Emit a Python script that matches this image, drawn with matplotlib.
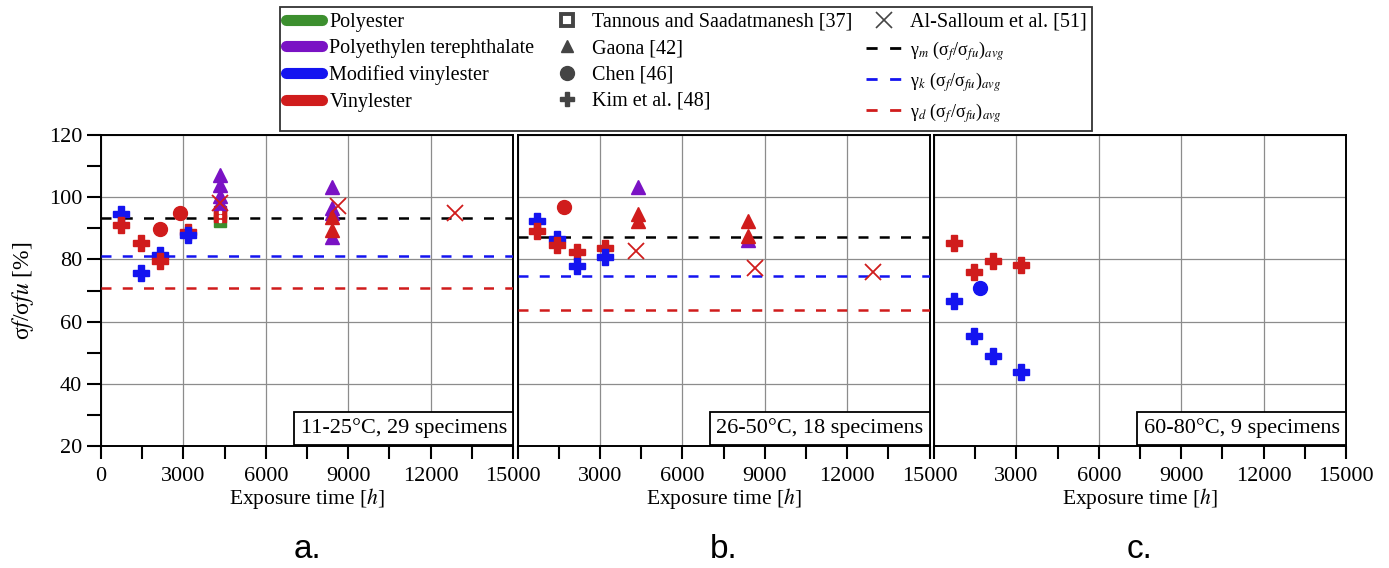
import matplotlib
matplotlib.use('Agg')
import matplotlib.pyplot as plt
from matplotlib.lines import Line2D
from matplotlib.ticker import MultipleLocator

plt.rcParams['font.family'] = ['Liberation Serif', 'DejaVu Serif']
plt.rcParams['mathtext.fontset'] = 'stix'

# material colours and source markers
materials = ['Polyester', 'Polyethylen terephthalate', 'Modified vinylester', 'Vinylester']
mat_colors = {'PE': '#3c8f2e', 'PET': '#7a12c4', 'MVE': '#1414f0', 'VE': '#d01c1c'}
sources = ['Tannous and Saadatmanesh [37]', 'Gaona [42]', 'Chen [46]', 'Kim et al. [48]', 'Al-Salloum et al. [51]']

# panel a: 11-25 C
a_time = [720, 720, 1440, 1440, 2160, 2160, 3170, 3170,
          2160, 2880,
          4340, 4340, 4340,
          4340, 4340, 4340, 4340, 8400, 8400, 8400, 8400, 8400, 8400,
          4340, 8640, 12900]
a_ratio = [94.6, 91.1, 85.4, 75.6, 81.4, 79.6, 88.7, 87.8,
           89.8, 94.8,
           92.4, 93.8, 95.2,
           107.0, 103.8, 100.5, 98.0, 103.2, 96.5, 95.0, 87.2, 93.5, 89.5,
           98.0, 97.3, 94.8]
a_source = ['Kim'] * 8 + ['Chen'] * 2 + ['Tannous'] * 3 + ['Gaona'] * 10 + ['AlSalloum'] * 3
a_material = ['MVE', 'VE', 'VE', 'MVE', 'MVE', 'VE', 'VE', 'MVE',
              'VE', 'VE',
              'PE', 'VE', 'VE',
              'PET', 'PET', 'PET', 'PET', 'PET', 'PET', 'PET', 'PET', 'VE', 'VE',
              'VE', 'VE', 'VE']
a_avg = [93.3, 81.2, 70.8]

# panel b: 26-50 C
b_time = [720, 720, 1440, 1440, 2160, 2160, 3170, 3170,
          1680,
          4370, 4370, 4370, 8400, 8400, 8400,
          4320, 8640, 12930]
b_ratio = [92.2, 89.0, 86.5, 84.6, 82.5, 77.9, 83.8, 80.9,
           96.8,
           103.3, 94.5, 92.3, 86.3, 92.3, 87.5,
           82.7, 77.2, 75.8]
b_source = ['Kim'] * 8 + ['Chen'] + ['Gaona'] * 6 + ['AlSalloum'] * 3
b_material = ['MVE', 'VE', 'MVE', 'VE', 'VE', 'MVE', 'VE', 'MVE',
              'VE',
              'PET', 'VE', 'VE', 'PET', 'VE', 'VE',
              'VE', 'VE', 'VE']
b_avg = [87.2, 74.8, 63.8]

# panel c: 60-80 C
c_time = [720, 1440, 2160, 3170, 720, 1440, 2160, 3170, 1680]
c_ratio = [85.2, 76.0, 79.5, 78.2, 66.5, 55.3, 49.0, 43.8, 70.9]
c_source = ['Kim'] * 8 + ['Chen']
c_material = ['VE'] * 4 + ['MVE'] * 4 + ['MVE']
c_avg = []

panel_text = ['11-25°C, 29 specimens', '26-50°C, 18 specimens', '60-80°C, 9 specimens']
panel_letter = ['a.', 'b.', 'c.']
avg_colors = ['black', '#1414f0', '#d01c1c']

fig = plt.figure(figsize=(13.89, 5.68), dpi=100)
W, H = 1389.0, 568.0
lefts = [101, 517.5, 934]
width = 412
bottom, top = 446, 135

panels = [(a_time, a_ratio, a_source, a_material, a_avg),
          (b_time, b_ratio, b_source, b_material, b_avg),
          (c_time, c_ratio, c_source, c_material, c_avg)]


def draw_point(ax, t, r, src, mat):
    col = mat_colors[mat]
    if src == 'Kim':
        ax.plot(t, r, marker='P', ms=11, color=col, mec=col, ls='none', zorder=5)
    elif src == 'Chen':
        ax.plot(t, r, marker='o', ms=10, color=col, mec=col, ls='none', zorder=5)
    elif src == 'Gaona':
        ax.plot(t, r, marker='^', ms=9.5, color=col, mec=col, ls='none', zorder=5)
    elif src == 'Tannous':
        ax.plot(t, r, marker='s', ms=9, color=col, mec=col, ls='none', zorder=5)
        ax.plot(t, r, marker='s', ms=2, color='white', mec='white', ls='none', zorder=6)
    elif src == 'AlSalloum':
        ax.plot(t, r, marker='x', ms=11, color=col, mew=1.3, ls='none', zorder=5)


for i, (times, ratios, srcs, mats, avgs) in enumerate(panels):
    ax = fig.add_axes([lefts[i] / W, 1 - bottom / H, width / W, (bottom - top) / H])
    ax.set_xlim(0, 15000)
    ax.set_ylim(20, 120)
    ax.xaxis.set_major_locator(MultipleLocator(3000))
    ax.xaxis.set_minor_locator(MultipleLocator(1500))
    ax.yaxis.set_major_locator(MultipleLocator(20))
    ax.yaxis.set_minor_locator(MultipleLocator(10))
    ax.grid(True, which='major', color='#8c8c8c', lw=0.9)
    ax.set_axisbelow(True)
    for s in ax.spines.values():
        s.set_linewidth(1.4)
    ax.tick_params(axis='x', which='both', direction='out', length=9, width=1.5,
                   labelsize=16, pad=6)
    ax.tick_params(axis='y', which='both', direction='out', length=10, width=1.5,
                   labelsize=16)
    ax.set_xticks([0, 3000, 6000, 9000, 12000, 15000])
    if i == 0:
        ax.set_ylabel('σ$f$/σ$fu$ [%]', fontsize=17, labelpad=9)
    else:
        ax.set_xticklabels(['', '3000', '6000', '9000', '12000', '15000'])
        ax.tick_params(axis='y', which='both', left=False, labelleft=False)
    ax.set_xlabel('Exposure time [$h$]', fontsize=15.5, labelpad=0)

    for j, val in enumerate(avgs):
        ax.axhline(val, color=avg_colors[j], lw=1.8, dashes=(4, 4.5), zorder=3)

    for t, r, s, m in zip(times, ratios, srcs, mats):
        draw_point(ax, t, r, s, m)

    ax.text(0.985, 0.025, panel_text[i], transform=ax.transAxes, ha='right', va='bottom',
            fontsize=16, zorder=10,
            bbox=dict(boxstyle='square,pad=0.3', fc='white', ec='black', lw=1.3))
    fig.text((lefts[i] + width / 2) / W, 1 - 549 / H, panel_letter[i], ha='center',
             va='center', fontsize=24, family=['Liberation Sans', 'DejaVu Sans'])

# legend
handles = []
labels = []
for m, key in zip(materials, ['PE', 'PET', 'MVE', 'VE']):
    handles.append(Line2D([], [], color=mat_colors[key], lw=8, solid_capstyle='round'))
    labels.append(m)
handles.append(Line2D([], [], marker='s', ms=8, mfc='white', mec='#444444', mew=2.8, ls='none'))
handles.append(Line2D([], [], marker='^', ms=9, color='#444444', ls='none'))
handles.append(Line2D([], [], marker='o', ms=10, color='#444444', ls='none'))
handles.append(Line2D([], [], marker='P', ms=10, color='#444444', ls='none'))
handles.append(Line2D([], [], marker='x', ms=11, color='#444444', mew=1.2, ls='none'))
labels += sources
for c, sub in zip(avg_colors, ['m', 'k', 'd']):
    handles.append(Line2D([], [], color=c, lw=2, dashes=(4, 4.5)))
    labels.append('γ$_' + sub + '$ (σ$_f$/σ$_{fu}$)$_{avg}$')

leg = fig.legend(handles, labels, ncol=3, loc='upper center', bbox_to_anchor=(0.494, 0.988),
                 fontsize=14.5, frameon=True, fancybox=False, edgecolor='black',
                 handlelength=1.8, handletextpad=0.35, columnspacing=0.7,
                 labelspacing=0.36, borderpad=0.3, borderaxespad=0)
leg.get_frame().set_linewidth(1.3)
for txt in leg.get_texts()[9:]:
    txt.set_fontsize(13)

fig.savefig('out.png', dpi=100)
